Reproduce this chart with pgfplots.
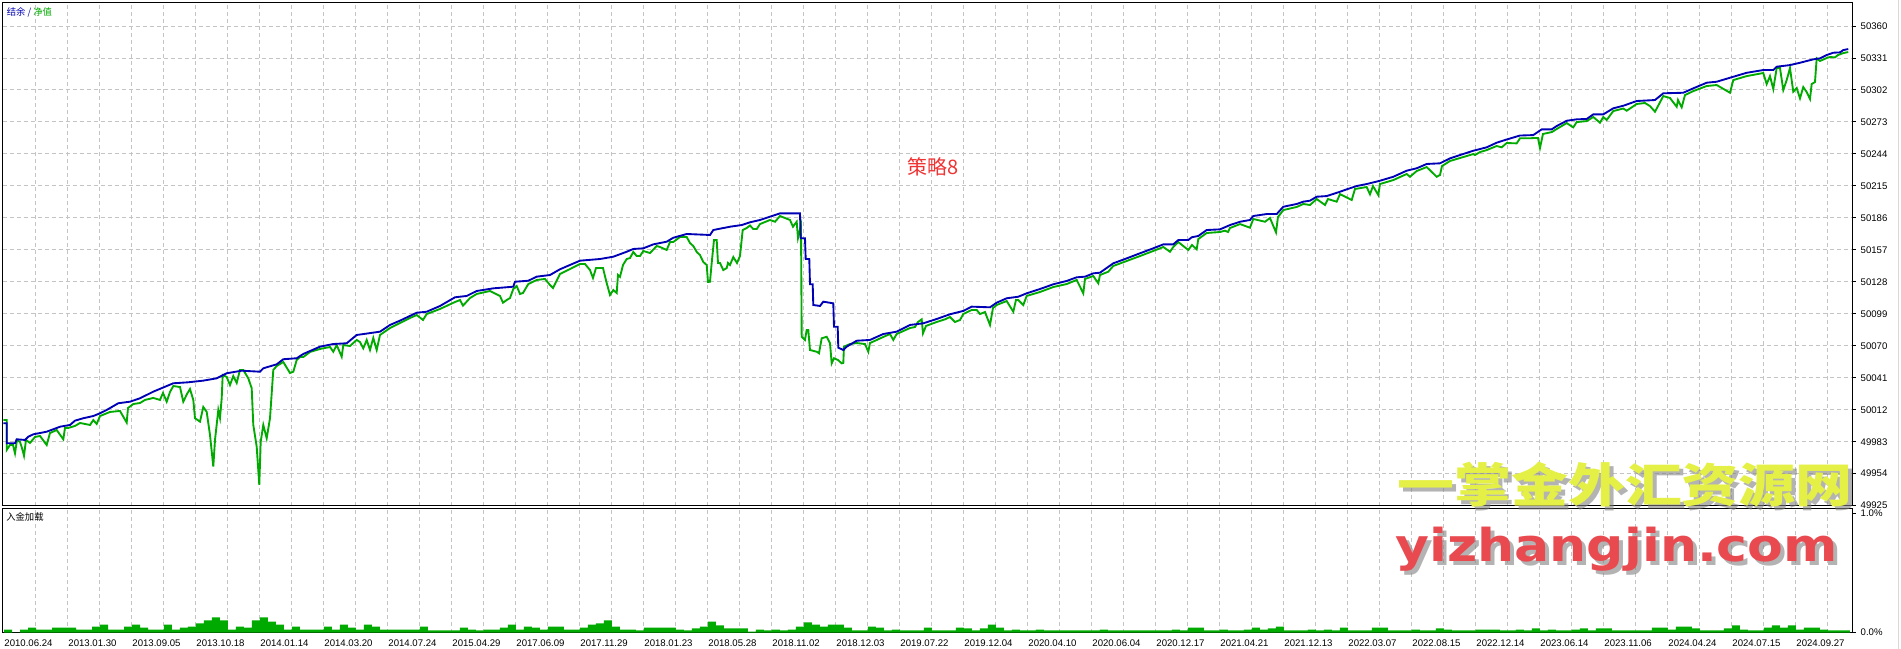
\documentclass[border=0pt]{standalone}
\usepackage{pgfplots}
\pgfplotsset{compat=1.18}
\usepackage{fontspec}
\usepackage{graphicx}
\setmainfont{Liberation Sans}
\newfontfamily\cjk{Noto Sans CJK SC}
\newfontfamily\wmfont{DejaVu Sans}

\definecolor{bal}{RGB}{0,0,180}
\definecolor{eq}{RGB}{0,170,0}
\definecolor{gridc}{RGB}{196,196,196}
\definecolor{wmy}{RGB}{228,240,70}
\definecolor{wmr}{RGB}{232,74,80}
\definecolor{ttl}{RGB}{240,50,50}

% 1 px of the reference = 0.75pt
\pgfplotsset{
  mt/.style={
    scale only axis,
    width=1387.7pt,
    xmin=2.7, xmax=1853,
    axis line style={line width=0.75pt},
    xtick={35.5,67.5,...,1827.5},
    xticklabels={},
    xtick style={draw=none},
    xmajorgrids,
    major grid style={gridc, line width=0.75pt, dash pattern=on 3pt off 2.25pt},
    ytick pos=right, yticklabel pos=right,
    ytick style={black, line width=0.75pt},
    major tick length=2.25pt,
    tick align=outside,
    ticklabel style={font=\fontsize{7.2}{8}\selectfont},
    /pgf/number format/assume math mode=true,
  }
}

\begin{document}
\begin{tikzpicture}
\path[use as bounding box] (0pt,0pt) rectangle (1425.75pt,-486.75pt);

% balance / equity
\begin{axis}[mt,
  at={(2.025pt,-2.25pt)}, anchor=north west, height=377.25pt,
  ymin=49924.7, ymax=50380.9,
  ytick={49925,49954,49983,50012,50041,50070,50099,50128,50157,50186,50215,50244,50273,50302,50331,50360},
  yticklabels={49925,49954,49983,50012,50041,50070,50099,50128,50157,50186,50215,50244,50273,50302,50331,50360},
  ymajorgrids,
]
\addplot[eq, line width=1.4pt] coordinates {
(3.3,50002.7) (6.7,50002.7) (6.7,49975.5) (10,49980.0) (13,49980.0) (15,49972.5) (17,49984.6) (20,49982.8) (22,49977.3) (24,49970.3) (26,49984.6) (30,49981.9) (35,49987.3) (40,49988.2) (46.7,49980.0) (50,49990.9) (56.7,49993.6) (63.3,49985.2) (65,49995.5) (68.3,49995.5) (75,49997.3) (80,50000.0) (90,49998.2) (93.3,50002.7) (96.7,49999.1) (100,50006.3) (110,50010.0) (120,50010.9) (126.7,50000.3) (128,50013.6) (133.3,50017.2) (140,50018.1) (145,50020.9) (153.3,50022.7) (160,50020.9) (163,50027.2) (166.7,50019.3) (170,50028.1) (173.3,50033.5) (180,50032.6) (183.3,50019.3) (187,50026.3) (190,50030.8) (193.3,50020.9) (195,50004.3) (200,50001.2) (203.3,50014.5) (206.7,50010.0) (210,49989.1) (213.3,49960.4) (215,49984.6) (218.3,50011.8) (220,50004.5) (221.7,50022.4) (222.7,50043.5) (226.7,50041.7) (230,50034.4) (233.3,50042.6) (236.7,50036.3) (240,50048.1) (243.3,50048.1) (248.3,50040.5) (251.7,50031.5) (253.3,49998.2) (256.7,49978.5) (259.3,49943.8) (260.7,49983.0) (263.3,49998.2) (266.7,49986.1) (270,50004.3) (273.3,50048.1) (276.7,50051.7) (283.3,50055.3) (290,50045.3) (293.3,50046.5) (296.7,50057.1) (300,50059.8) (303.3,50059.8) (310,50064.4) (320,50067.1) (330,50068.9) (333.3,50064.6) (336.7,50070.7) (341.7,50060.1) (343.3,50070.7) (350,50069.8) (356.7,50075.3) (360,50073.4) (363.3,50067.7) (366.7,50075.3) (370,50066.2) (373.3,50077.1) (376.7,50066.2) (380,50079.8) (390,50086.1) (400,50090.7) (410,50095.2) (416.7,50097.9) (423,50093.4) (426.7,50098.8) (440,50103.4) (455,50109.7) (460,50111.5) (463,50106.4) (470,50113.3) (476.7,50117.0) (490,50119.7) (500,50115.2) (503,50109.1) (506.7,50111.5) (510,50113.3) (513.3,50121.5) (516.7,50124.2) (520,50117.0) (523,50117.9) (528.3,50126.0) (536.7,50129.7) (545,50130.6) (550,50125.1) (553,50122.4) (556,50127.9) (560,50135.1) (570,50139.6) (580,50144.2) (585,50144.2) (590,50138.7) (593,50131.5) (596,50140.5) (603,50140.5) (606.7,50126.9) (610,50116.1) (613.3,50120.6) (616.7,50117.9) (618,50134.2) (620,50132.5) (623,50143.3) (626.7,50148.7) (630,50149.6) (633.3,50155.1) (636.7,50151.4) (640,50151.4) (643.3,50156.0) (650,50154.1) (656.7,50160.5) (660,50159.6) (666.7,50156.9) (670,50164.1) (673.3,50164.1) (680,50168.7) (686.7,50168.7) (690,50163.2) (693.3,50160.5) (696.7,50155.1) (700,50152.3) (703.3,50146.0) (706.7,50143.3) (708,50127.9) (710,50128.1) (711.7,50145.1) (714,50165.9) (716.7,50165.9) (718,50145.1) (720,50145.1) (723.3,50138.7) (726.7,50140.5) (728,50145.1) (730,50143.3) (733.3,50150.5) (737,50145.1) (740,50151.4) (742.7,50175.0) (746.7,50176.8) (750,50179.1) (753.3,50175.9) (756.7,50175.9) (760,50180.4) (770,50184.1) (775,50182.5) (780,50187.7) (790,50184.1) (793,50178.0) (796.7,50182.5) (798,50167.8) (801,50178.6) (801.7,50078.2) (805,50075.3) (806.7,50084.3) (808.3,50084.3) (810,50066.2) (816.7,50064.6) (819,50063.2) (821.7,50076.8) (826.7,50078.2) (830,50072.3) (831.7,50054.1) (834,50058.7) (838,50057.1) (841.7,50054.1) (843.3,50054.4) (844,50069.2) (850,50071.6) (856.7,50072.5) (865,50071.6) (868.3,50064.6) (870,50072.5) (883.3,50078.0) (890,50080.7) (893.3,50075.3) (896.7,50080.7) (910,50086.1) (915,50087.0) (918,50091.6) (921.7,50094.0) (923,50081.3) (926,50088.0) (936.7,50091.6) (945,50094.0) (950,50096.1) (955,50091.6) (960,50093.4) (963.3,50098.8) (971.7,50102.5) (976.7,50102.5) (980,50098.8) (985,50100.6) (990,50088.9) (993,50104.3) (996.7,50107.0) (1006.7,50110.6) (1013.3,50100.9) (1016,50111.5) (1018.3,50111.5) (1023.3,50107.0) (1026.7,50115.2) (1040,50118.8) (1053.3,50123.3) (1066.7,50126.0) (1076.7,50129.7) (1083.3,50117.6) (1085,50130.6) (1093.3,50133.3) (1098.3,50126.7) (1100,50134.2) (1108.3,50137.2) (1113.3,50142.4) (1126.7,50146.9) (1140,50151.4) (1153.3,50156.0) (1163.3,50159.6) (1170,50155.3) (1173.3,50159.6) (1178.3,50164.1) (1188.3,50156.9) (1192,50161.4) (1196.7,50157.5) (1198.3,50166.8) (1206.7,50172.3) (1220,50173.2) (1225,50174.4) (1228,50173.2) (1230,50176.8) (1240,50180.4) (1250,50177.1) (1253.3,50185.0) (1265,50182.5) (1270,50185.9) (1276,50172.9) (1278,50186.8) (1283.3,50193.1) (1296.7,50195.9) (1303.3,50198.6) (1310,50197.7) (1316.7,50203.1) (1325,50197.7) (1328,50203.1) (1336.7,50200.7) (1340,50207.6) (1351.7,50202.2) (1355,50212.2) (1366.7,50214.0) (1370,50207.4) (1373,50214.9) (1378.3,50206.7) (1380,50216.7) (1393.3,50220.3) (1406.7,50225.8) (1410,50223.3) (1416.7,50228.5) (1426.7,50232.1) (1436.7,50223.3) (1440,50224.9) (1442,50233.0) (1450,50237.6) (1460,50240.3) (1473.3,50243.9) (1475,50243.0) (1480,50245.7) (1486.7,50247.5) (1496.7,50251.2) (1501.7,50250.0) (1506.7,50253.9) (1516.7,50253.6) (1520,50258.2) (1530,50258.2) (1533.3,50258.4) (1538,50258.4) (1540,50249.4) (1543,50262.1) (1552,50263.9) (1556.7,50266.6) (1566.7,50272.0) (1573.3,50268.1) (1576.7,50272.9) (1586.7,50273.8) (1593.3,50277.5) (1600,50272.3) (1603.3,50277.5) (1606.7,50274.8) (1613.3,50282.9) (1623.3,50285.2) (1626.7,50283.2) (1636.7,50289.3) (1645,50290.2) (1650,50287.4) (1655,50282.3) (1658,50287.4) (1663.3,50296.5) (1670,50294.7) (1676.7,50286.8) (1678,50292.9) (1681.7,50286.3) (1685,50297.4) (1693.3,50301.0) (1706.7,50305.6) (1716.7,50306.5) (1730,50299.5) (1733.3,50311.0) (1746.7,50314.6) (1763.3,50317.4) (1766.7,50307.4) (1770,50314.6) (1773.3,50302.9) (1776.7,50321.9) (1780,50321.9) (1783.3,50302.0) (1786.7,50311.0) (1790,50321.9) (1793.3,50300.4) (1796.7,50303.8) (1800,50294.4) (1803.3,50304.7) (1806.7,50300.1) (1810,50293.8) (1811.7,50307.4) (1815,50309.2) (1816.7,50330.7) (1820,50328.3) (1826.7,50331.0) (1830,50331.9) (1835,50331.6) (1838,50333.7) (1843.3,50335.5) (1848.3,50336.4)
};
\addplot[bal, line width=1.4pt] coordinates {
(3.3,49999.7) (6.7,49999.7) (6.7,49981.6) (15,49981.6) (16.7,49985.2) (25,49984.6) (28.3,49987.6) (33.3,49989.7) (46.7,49992.1) (53.3,49994.3) (60,49996.6) (70,49998.2) (75,50002.1) (83.3,50004.3) (93.3,50006.3) (100,50008.8) (106.7,50011.8) (118.3,50017.9) (130,50019.3) (140,50022.4) (153.3,50028.4) (173.3,50036.0) (188.3,50036.9) (203.3,50038.4) (216.7,50040.5) (226.7,50045.1) (241.7,50047.4) (260,50046.5) (263.3,50049.6) (276.7,50053.2) (283.3,50057.8) (296.7,50058.7) (303.3,50062.6) (320,50069.2) (333.3,50071.6) (346.7,50072.3) (356.7,50079.8) (380,50082.8) (390,50088.9) (400,50092.8) (416.7,50100.0) (426.7,50100.9) (440,50106.1) (455,50114.0) (466.7,50115.2) (476.7,50119.7) (493.3,50122.1) (513.3,50123.6) (515,50128.1) (528.3,50129.0) (536.7,50132.7) (550,50134.2) (560,50139.4) (580,50147.2) (600,50148.7) (613.3,50150.8) (626.7,50155.3) (633.3,50157.8) (643.3,50158.4) (653.3,50162.0) (666.7,50164.4) (673.3,50168.0) (686.7,50171.4) (710,50170.5) (713.3,50175.0) (730,50178.0) (741.7,50179.5) (750,50182.0) (760,50184.1) (770,50187.1) (780,50190.1) (800,50190.1) (800.7,50167.5) (805,50167.5) (805.7,50148.7) (809.3,50148.7) (810,50125.8) (812.7,50125.8) (813.3,50107.0) (820,50106.1) (823.3,50110.0) (833.3,50108.5) (834,50087.3) (837.7,50087.3) (838.3,50068.3) (843.3,50066.2) (846.7,50069.2) (856.7,50074.6) (870,50075.3) (883.3,50080.7) (896.7,50082.8) (910,50088.9) (923.3,50090.4) (936.7,50094.3) (950,50098.6) (963.3,50101.6) (971.7,50105.5) (990,50104.9) (996.7,50109.1) (1006.7,50113.1) (1018.3,50114.5) (1026.7,50117.6) (1040,50121.5) (1053.3,50125.8) (1066.7,50128.8) (1076.7,50132.1) (1085,50132.7) (1093.3,50135.7) (1100,50136.3) (1113.3,50144.8) (1126.7,50149.3) (1140,50153.9) (1153.3,50158.4) (1163.3,50162.0) (1173.3,50162.0) (1178.3,50165.9) (1188.3,50165.9) (1191.7,50168.4) (1198.3,50169.6) (1206.7,50175.0) (1220,50175.6) (1230,50179.5) (1240,50182.5) (1250,50184.1) (1253.3,50187.7) (1266.7,50189.5) (1276.7,50189.5) (1283.3,50196.1) (1296.7,50198.6) (1303.3,50200.7) (1310,50201.6) (1316.7,50205.2) (1326.7,50205.8) (1340,50209.7) (1346.7,50211.9) (1356.7,50214.9) (1366.7,50216.7) (1380,50219.7) (1393.3,50223.3) (1406.7,50228.8) (1416.7,50231.0) (1426.7,50234.9) (1440,50235.5) (1450,50240.0) (1460,50243.0) (1473.3,50246.9) (1486.7,50250.0) (1496.7,50254.2) (1506.7,50257.1) (1520,50260.7) (1533.3,50261.1) (1541.7,50266.3) (1551.7,50266.3) (1556.7,50269.3) (1566.7,50274.1) (1576.7,50275.4) (1586.7,50275.7) (1593.3,50279.9) (1603.3,50279.9) (1613.3,50285.4) (1623.3,50287.7) (1636.7,50292.0) (1655,50292.9) (1663.3,50299.0) (1683.3,50299.5) (1693.3,50303.5) (1706.7,50308.6) (1716.7,50309.5) (1733.3,50314.0) (1746.7,50317.6) (1763.3,50320.1) (1773.3,50320.1) (1776.7,50323.1) (1790,50324.6) (1800,50326.7) (1813.3,50329.8) (1820,50330.7) (1826.7,50333.7) (1833.3,50335.8) (1840,50336.1) (1843.3,50338.2) (1848.3,50339.1)
};
\end{axis}

% deposit load
\begin{axis}[mt,
  at={(2.025pt,-381.225pt)}, anchor=north west, height=93.15pt,
  ymin=0, ymax=1.042,
  ytick={0,1}, yticklabels={0.0\%,1.0\%},
  extra x ticks={3.5,67.5,...,1795.5},
  extra x tick labels={2010.06.24,2013.01.30,2013.09.05,2013.10.18,2014.01.14,2014.03.20,2014.07.24,2015.04.29,2017.06.09,2017.11.29,2018.01.23,2018.05.28,2018.11.02,2018.12.03,2019.07.22,2019.12.04,2020.04.10,2020.06.04,2020.12.17,2021.04.21,2021.12.13,2022.03.07,2022.08.15,2022.12.14,2023.06.14,2023.11.06,2024.04.24,2024.07.15,2024.09.27},
  extra x tick style={grid=none, xticklabel style={anchor=north west, inner xsep=0.5pt}},
]
\addplot[ybar interval, fill=eq, draw=none] coordinates {
(4,0.025) (12,0) (20,0.025) (28,0.042) (36,0.025) (44,0.025) (52,0.042) (60,0.042) (68,0.042) (76,0.025) (84,0.025) (92,0.050) (100,0.067) (108,0.025) (116,0.025) (124,0.050) (132,0.067) (140,0.042) (148,0.025) (156,0.025) (164,0.067) (172,0.025) (180,0.042) (188,0.050) (196,0.076) (204,0.101) (212,0.126) (220,0.101) (228,0.025) (236,0.050) (244,0.042) (252,0.101) (260,0.126) (268,0.092) (276,0.067) (284,0.025) (292,0.050) (300,0.025) (308,0.025) (316,0.025) (324,0.050) (332,0.025) (340,0.067) (348,0.042) (356,0.025) (364,0.067) (372,0.050) (380,0.025) (388,0.025) (396,0.025) (404,0.025) (412,0.025) (420,0.050) (428,0.017) (436,0.017) (444,0.017) (452,0.017) (460,0.042) (468,0.025) (476,0.017) (484,0.025) (492,0.025) (500,0.042) (508,0.067) (516,0.025) (524,0.050) (532,0.042) (540,0.025) (548,0.050) (556,0.050) (564,0.025) (572,0.025) (580,0.042) (588,0.067) (596,0.076) (604,0.101) (612,0.050) (620,0.025) (628,0.025) (636,0.017)
(644,0.042) (652,0.042) (660,0.042) (668,0.042) (676,0.025) (684,0.017) (692,0.034) (700,0.050) (708,0.092) (716,0.059) (724,0.034) (732,0.034) (740,0.034) (748,0.008) (756,0.025) (764,0.017) (772,0.025) (780,0.017) (788,0.025) (796,0.050) (804,0.084) (812,0.067) (820,0.050) (828,0.067) (836,0.067) (844,0.042) (852,0.017) (860,0.017) (868,0.050) (876,0.042) (884,0.017) (892,0.025) (900,0.017) (908,0.017) (916,0.017) (924,0.042) (932,0.017) (940,0.017) (948,0.017) (956,0.042) (964,0.034) (972,0.017) (980,0.034) (988,0.067) (996,0.042) (1004,0.017) (1012,0.025) (1020,0.017) (1028,0.017) (1036,0.025) (1044,0.017) (1052,0.017) (1060,0.017) (1068,0.017) (1076,0.017) (1084,0.017) (1092,0.017) (1100,0.025) (1108,0.017) (1116,0.017) (1124,0.017) (1132,0.017) (1140,0.017) (1148,0.017) (1156,0.017) (1164,0.017) (1172,0.025) (1180,0.017) (1188,0.042) (1196,0.042) (1204,0.017) (1212,0.017) (1220,0.025) (1228,0.017) (1236,0.017)
(1244,0.025) (1252,0.042) (1260,0.025) (1268,0.034) (1276,0.050) (1284,0.017) (1292,0.017) (1300,0.017) (1308,0.025) (1316,0.017) (1324,0.025) (1332,0.017) (1340,0.042) (1348,0.017) (1356,0.017) (1364,0.017) (1372,0.042) (1380,0.042) (1388,0.017) (1396,0.017) (1404,0.017) (1412,0.025) (1420,0.017) (1428,0.017) (1436,0.034) (1444,0.025) (1452,0.017) (1460,0.017) (1468,0.017) (1476,0.025) (1484,0.025) (1492,0.025) (1500,0.017) (1508,0.017) (1516,0.025) (1524,0.017) (1532,0.034) (1540,0.017) (1548,0.025) (1556,0.017) (1564,0.017) (1572,0.025) (1580,0.034) (1588,0.017) (1596,0.034) (1604,0.034) (1612,0.017) (1620,0.017) (1628,0.017) (1636,0.017) (1644,0.017) (1652,0.042) (1660,0.042) (1668,0.025) (1676,0.050) (1684,0.050) (1692,0.034) (1700,0.017) (1708,0.017) (1716,0.017) (1724,0.034) (1732,0.059) (1740,0.025) (1748,0.017) (1756,0.017) (1764,0.042) (1772,0.059) (1780,0.042) (1788,0.059) (1796,0.025) (1804,0.042) (1812,0.042) (1820,0.025) (1828,0.017) (1836,0.017) (1844,0.017) (1850,0)
};
\end{axis}

% texts, in reference pixels
\begin{scope}[x=0.75pt, y=-0.75pt]
\draw[gray!30, line width=0.75pt] (1898,0) -- (1898,649);
\node[anchor=west, inner sep=0pt, font=\cjk\fontsize{7}{8}\selectfont] at (6.5,12.5)
  {\textcolor{bal}{结余 /} \textcolor{eq}{净值}};
\node[anchor=west, inner sep=0pt, font=\cjk\fontsize{7}{8}\selectfont] at (6,517) {入金加载};
\node[ttl, font=\cjk\fontsize{15}{16}\selectfont, inner sep=0pt] at (933,167) {策略8};
% watermarks
\node[anchor=base west, inner sep=0pt, gray, opacity=0.6, font=\cjk\bfseries\fontsize{35}{40}\selectfont] at (1401,506)
  {\scalebox{1.22}[1]{一掌金外汇资源网}};
\node[anchor=base west, inner sep=0pt, wmy, font=\cjk\bfseries\fontsize{35}{40}\selectfont] at (1397,502.5)
  {\scalebox{1.22}[1]{一掌金外汇资源网}};
\node[anchor=base west, inner sep=0pt, gray, opacity=0.6, font=\wmfont\bfseries\fontsize{34}{40}\selectfont] at (1399,565)
  {\scalebox{1.15}[1]{yizhangjin.com}};
\node[anchor=base west, inner sep=0pt, wmr, font=\wmfont\bfseries\fontsize{34}{40}\selectfont] at (1395,561)
  {\scalebox{1.15}[1]{yizhangjin.com}};
\end{scope}
\end{tikzpicture}
\end{document}
